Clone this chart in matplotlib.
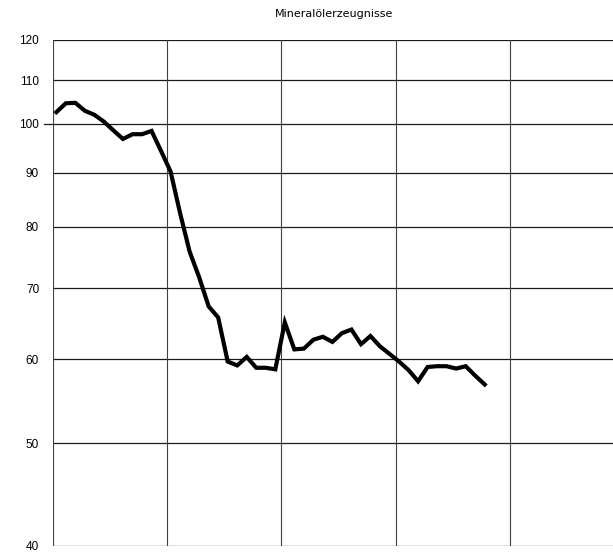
import matplotlib
import matplotlib.pyplot as plt
import matplotlib.transforms as mtransforms
import numpy as np
from matplotlib.ticker import FixedLocator, NullLocator

matplotlib.use("Agg")

# monthly index values, five years shown (12 months per grid cell)
title = "Mineralölerzeugnisse"
values = [
    102.6, 104.6, 104.7, 102.9, 102.0, 100.5, 98.6, 96.8, 97.8, 97.8,
    98.5, 94.3, 90.2, 82.4, 75.8, 71.7, 67.3, 65.7, 59.7, 59.2,
    60.3, 58.9, 58.9, 58.7, 65.0, 61.3, 61.4, 62.6, 63.0, 62.3,
    63.5, 64.0, 62.0, 63.1, 61.7, 60.7, 59.7, 58.6, 57.2, 59.0,
    59.1, 59.1, 58.8, 59.1, 57.9, 56.8,
]
y_ticks = [40, 50, 60, 70, 80, 90, 100, 110, 120]
year_lines = [0, 12, 24, 36, 48, 60]
base_value = 100

months = np.arange(len(values)) + 0.35

fig = plt.figure(figsize=(6.13, 5.54), dpi=100)
left = 53 / 613
ax = fig.add_axes([left, 8 / 554, 1 - left, 506 / 554])

ax.set_yscale("log")
ax.set_ylim(40, 120)
ax.set_xlim(0, (613 - 53) / 9.52)

# grid drawn by hand so it looks like the printed chart
for yv in y_ticks:
    ax.axhline(yv, color="0.1", lw=0.9, zorder=1)
for xv in year_lines:
    ax.axvline(xv, color="0.25", lw=0.8, zorder=1)

# the base line (100) sticks out a little to the left
trans = mtransforms.blended_transform_factory(ax.transAxes, ax.transData)
ax.plot([-9 / 560, 0], [base_value, base_value], color="0.1", lw=0.9,
        transform=trans, clip_on=False)

ax.plot(months, values, color="black", lw=3.0, solid_joinstyle="miter",
        zorder=3)

ax.yaxis.set_major_locator(FixedLocator(y_ticks))
ax.yaxis.set_minor_locator(NullLocator())
ax.set_yticklabels([str(v) for v in y_ticks],
                   family=["Liberation Sans", "DejaVu Sans"])
ax.tick_params(axis="y", length=0, pad=10, labelsize=8.5)
ax.xaxis.set_major_locator(NullLocator())
ax.xaxis.set_minor_locator(NullLocator())

for side in ["top", "right", "bottom", "left"]:
    ax.spines[side].set_visible(False)

fig.text(334 / 613, 1 - 14 / 554, title, ha="center", va="center",
         fontsize=8)

plt.savefig("out.png", dpi=100)
plt.close()
